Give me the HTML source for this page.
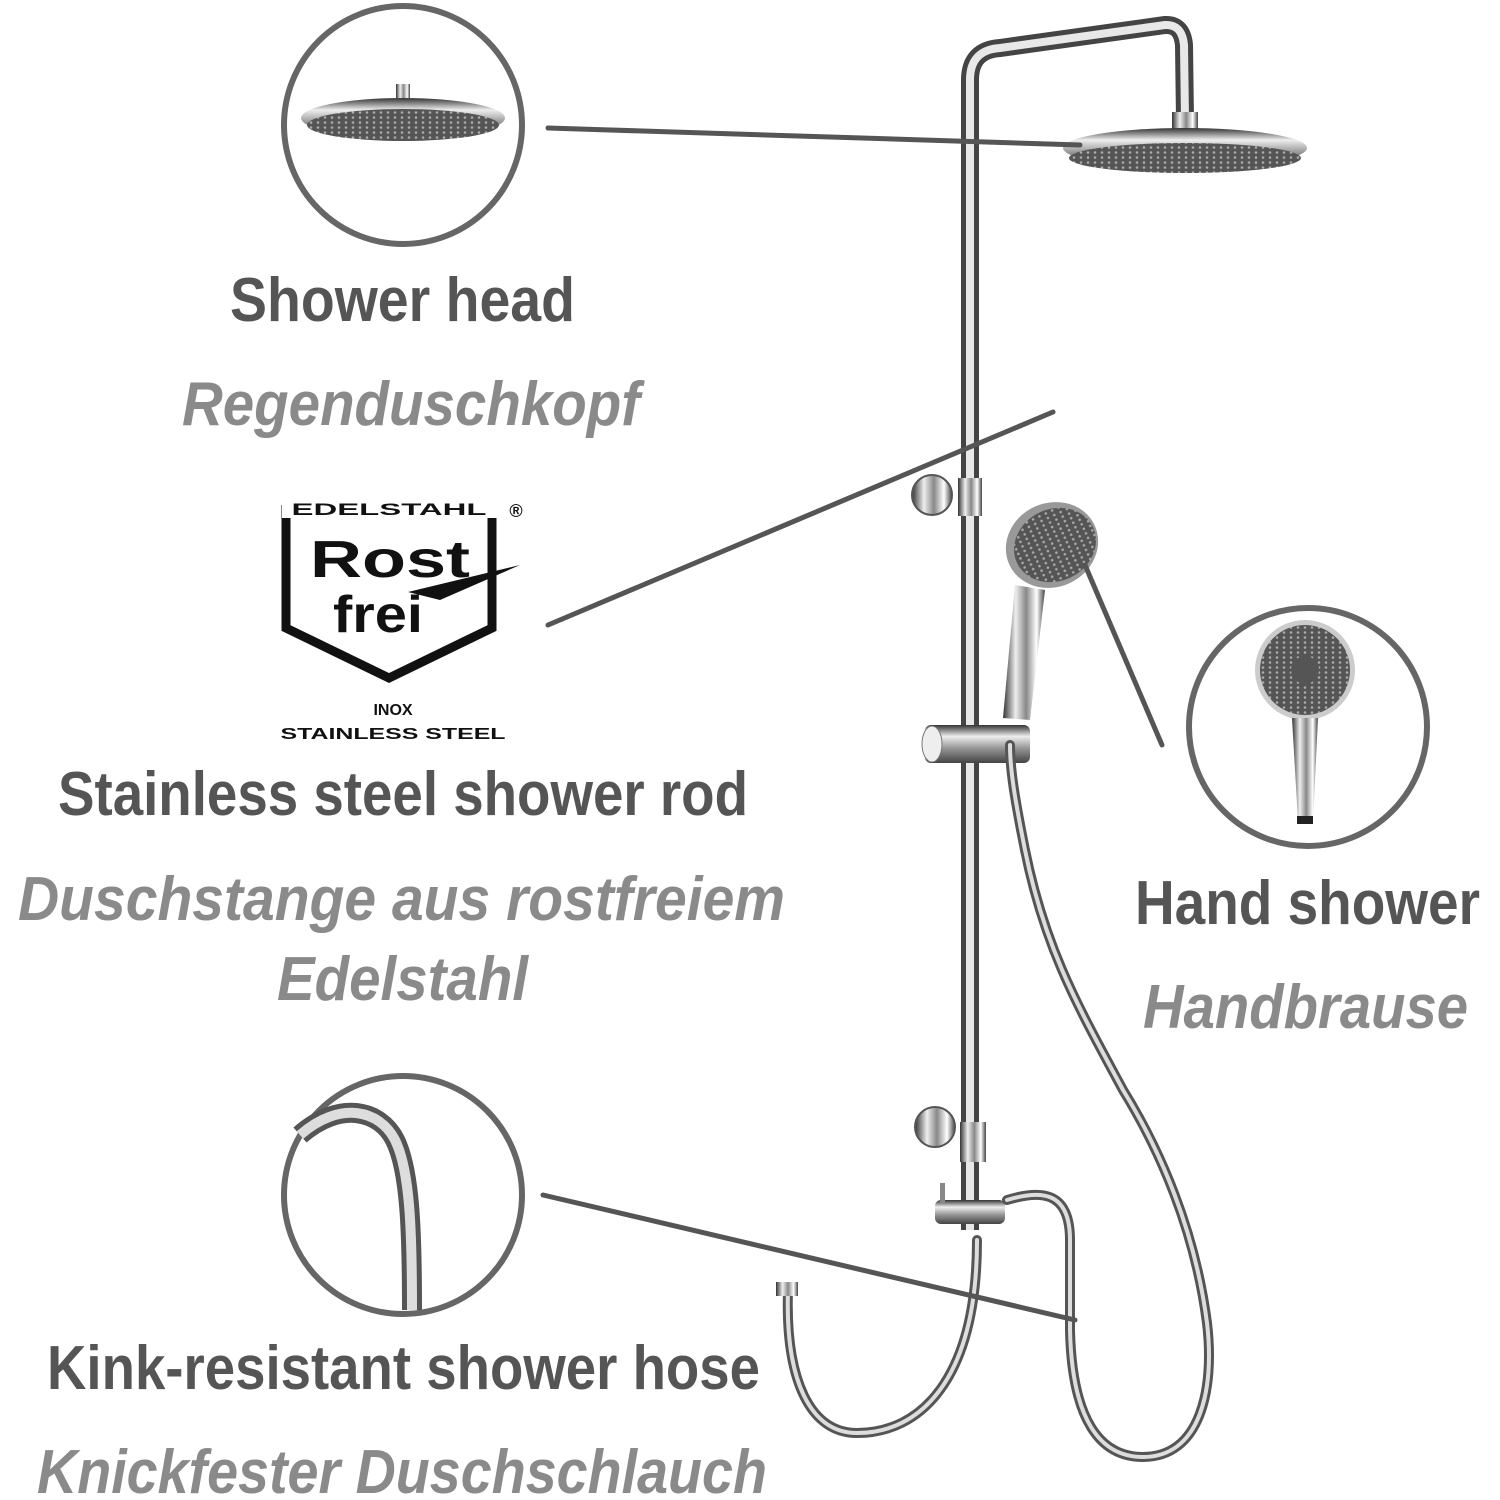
<!DOCTYPE html>
<html><head><meta charset="utf-8"><style>
html,body{margin:0;padding:0;background:#fff;}
svg{display:block;}
.b{font-family:"Liberation Sans Narrow","Liberation Sans",sans-serif;font-weight:bold;fill:#555;}
.i{font-family:"Liberation Sans Narrow","Liberation Sans",sans-serif;font-weight:bold;font-style:italic;fill:#8a8a8a;}
.l{font-family:"Liberation Sans",sans-serif;font-weight:bold;fill:#111;}
</style></head><body>
<svg width="1500" height="1500" viewBox="0 0 1500 1500" xmlns="http://www.w3.org/2000/svg">
<defs>
<linearGradient id="ch" x1="0" x2="1" y1="0" y2="0">
<stop offset="0" stop-color="#333"/><stop offset="0.3" stop-color="#eee"/><stop offset="0.55" stop-color="#888"/><stop offset="0.8" stop-color="#fff"/><stop offset="1" stop-color="#444"/></linearGradient>
<linearGradient id="chv" x1="0" x2="0" y1="0" y2="1">
<stop offset="0" stop-color="#333"/><stop offset="0.3" stop-color="#eee"/><stop offset="0.6" stop-color="#999"/><stop offset="1" stop-color="#444"/></linearGradient>
<pattern id="dots" width="7" height="5" patternUnits="userSpaceOnUse"><rect width="7" height="5" fill="#555"/><circle cx="3" cy="2.5" r="1.3" fill="#aaa"/></pattern>
</defs>

<!-- circles -->
<circle cx="403" cy="125" r="119" fill="none" stroke="#666" stroke-width="6"/>
<circle cx="1308" cy="727" r="119" fill="none" stroke="#666" stroke-width="6"/>
<circle cx="403" cy="1195" r="119" fill="none" stroke="#666" stroke-width="6"/>

<!-- mini shower head in top circle -->
<rect x="396" y="84" width="14" height="14" fill="url(#ch)"/>
<ellipse cx="403" cy="118" rx="102" ry="20" fill="url(#chv)"/>
<ellipse cx="403" cy="125" rx="96" ry="16" fill="url(#dots)"/>
<!-- mini hand shower -->
<circle cx="1305" cy="670" r="50" fill="#ccc"/>
<circle cx="1305" cy="670" r="45" fill="url(#dots)"/>
<circle cx="1305" cy="670" r="14" fill="#555"/>
<path d="M1292 718 L1318 718 L1313 822 L1298 822 Z" fill="url(#ch)"/>
<rect x="1297" y="816" width="16" height="8" fill="#222"/>
<!-- mini hose bend -->
<path d="M300 1135 C340 1100 380 1110 395 1140 C410 1170 412 1230 412 1310" fill="none" stroke="#555" stroke-width="20"/>
<path d="M300 1135 C340 1100 380 1110 395 1140 C410 1170 412 1230 412 1310" fill="none" stroke="#ddd" stroke-width="10"/>

<!-- rod and arm -->
<path d="M970 1230 L970 80 Q970 50 1000 48 L1165 25 Q1182 24 1184 45 L1185 120" fill="none" stroke="#444" stroke-width="18"/>
<path d="M970 1230 L970 80 Q970 50 1000 48 L1165 25 Q1182 24 1184 45 L1185 120" fill="none" stroke="#e8e8e8" stroke-width="8"/>
<rect x="1172" y="112" width="26" height="20" fill="url(#ch)"/>
<ellipse cx="1185" cy="148" rx="122" ry="20" fill="url(#chv)"/>
<ellipse cx="1185" cy="158" rx="116" ry="15" fill="url(#dots)"/>
<!-- brackets -->
<circle cx="932" cy="495" r="20" fill="url(#ch)" stroke="#555" stroke-width="2"/>
<rect x="958" y="478" width="24" height="38" fill="url(#ch)"/>
<circle cx="935" cy="1127" r="20" fill="url(#ch)" stroke="#555" stroke-width="2"/>
<rect x="960" y="1122" width="26" height="40" fill="url(#ch)"/>
<!-- slider -->
<rect x="925" y="725" width="105" height="38" rx="6" fill="url(#chv)"/>
<ellipse cx="932" cy="744" rx="10" ry="18" fill="#eee" stroke="#777"/>
<!-- hand shower -->
<path d="M1015 585 L1045 590 L1030 720 L1003 718 Z" fill="url(#ch)"/>
<ellipse cx="1052" cy="545" rx="47" ry="42" transform="rotate(-25 1052 545)" fill="#999"/>
<ellipse cx="1055" cy="545" rx="42" ry="36" transform="rotate(-25 1055 545)" fill="url(#dots)"/>
<!-- valve -->
<rect x="935" y="1200" width="70" height="24" rx="6" fill="url(#chv)"/>
<rect x="940" y="1183" width="5" height="20" fill="#888"/>
<!-- hoses -->
<g fill="none" stroke-linecap="round">
<path d="M788 1290 C785 1380 810 1433 857 1433 C920 1433 977 1380 977 1240" stroke="#555" stroke-width="10"/>
<path d="M788 1290 C785 1380 810 1433 857 1433 C920 1433 977 1380 977 1240" stroke="#ddd" stroke-width="4"/>
<path d="M1007 1200 C1040 1190 1070 1190 1070 1240 L1070 1330 C1072 1420 1100 1457 1143 1457 C1200 1457 1215 1390 1207 1323 C1195 1230 1160 1150 1123 1090 C1080 1010 1045 950 1025 850 C1015 800 1010 770 1010 745" stroke="#555" stroke-width="10"/>
<path d="M1007 1200 C1040 1190 1070 1190 1070 1240 L1070 1330 C1072 1420 1100 1457 1143 1457 C1200 1457 1215 1390 1207 1323 C1195 1230 1160 1150 1123 1090 C1080 1010 1045 950 1025 850 C1015 800 1010 770 1010 745" stroke="#ddd" stroke-width="4"/>
</g>
<rect x="776" y="1282" width="22" height="14" fill="url(#ch)"/>

<!-- leader lines -->
<g stroke="#555" stroke-width="5" stroke-linecap="round">
<line x1="548" y1="128" x2="1080" y2="145"/>
<line x1="548" y1="625" x2="1053" y2="412"/>
<line x1="1085" y1="565" x2="1162" y2="745"/>
<line x1="543" y1="1195" x2="1075" y2="1320"/>
</g>

<!-- logo -->
<path d="M286 505 L286 628 L389 678 L492 628 L492 505" fill="none" stroke="#111" stroke-width="9"/>
<rect x="282" y="500" width="215" height="18" fill="#fff"/>
<text class="l" x="389" y="515" font-size="17" text-anchor="middle" textLength="195" lengthAdjust="spacingAndGlyphs">EDELSTAHL</text>
<text class="l" x="516" y="517" font-size="18" text-anchor="middle">®</text>
<text class="l" x="390" y="577" font-size="52" text-anchor="middle" textLength="160" lengthAdjust="spacingAndGlyphs">Rost</text>
<text class="l" x="378" y="632" font-size="52" text-anchor="middle" textLength="90" lengthAdjust="spacingAndGlyphs">frei</text>
<path d="M408 592 L520 565 L440 600 Z" fill="#111"/>
<text class="l" x="393" y="715" font-size="16" text-anchor="middle">INOX</text>
<text class="l" x="393" y="739" font-size="16" text-anchor="middle" textLength="225" lengthAdjust="spacingAndGlyphs">STAINLESS STEEL</text>

<!-- labels -->
<text class="b" x="230" y="321" font-size="62" textLength="345" lengthAdjust="spacingAndGlyphs">Shower head</text>
<text class="i" x="182" y="425" font-size="62" textLength="458" lengthAdjust="spacingAndGlyphs">Regenduschkopf</text>
<text class="b" x="58" y="815" font-size="62" textLength="690" lengthAdjust="spacingAndGlyphs">Stainless steel shower rod</text>
<text class="i" x="18" y="920" font-size="62" textLength="767" lengthAdjust="spacingAndGlyphs">Duschstange aus rostfreiem</text>
<text class="i" x="277" y="1000" font-size="62" textLength="251" lengthAdjust="spacingAndGlyphs">Edelstahl</text>
<text class="b" x="1135" y="924" font-size="62" textLength="345" lengthAdjust="spacingAndGlyphs">Hand shower</text>
<text class="i" x="1143" y="1028" font-size="62" textLength="325" lengthAdjust="spacingAndGlyphs">Handbrause</text>
<text class="b" x="47" y="1389" font-size="62" textLength="713" lengthAdjust="spacingAndGlyphs">Kink-resistant shower hose</text>
<text class="i" x="37" y="1493" font-size="62" textLength="730" lengthAdjust="spacingAndGlyphs">Knickfester Duschschlauch</text>
</svg>
</body></html>
